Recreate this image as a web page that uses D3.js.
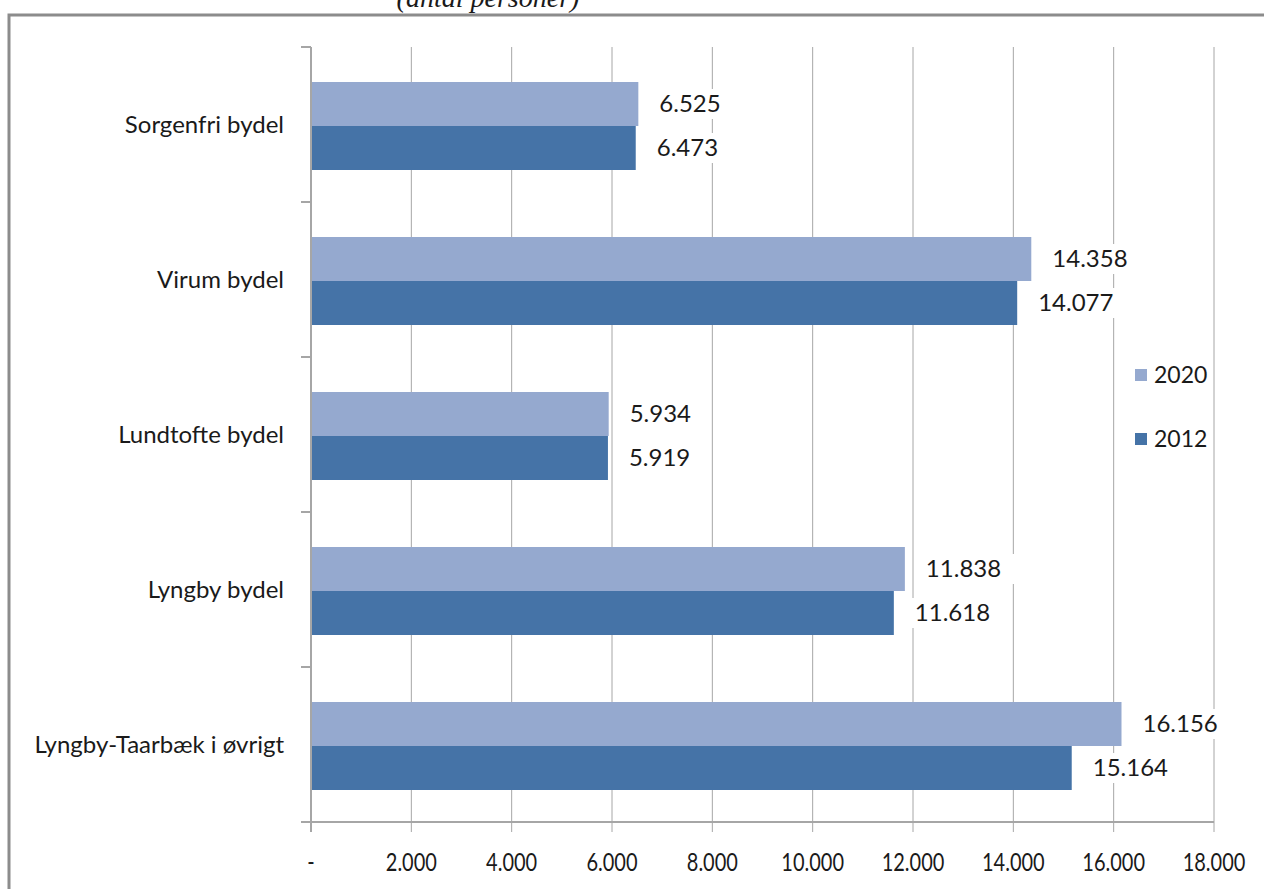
<!DOCTYPE html>
<html>
<head>
<meta charset="utf-8">
<style>
  body { margin: 0; background: #fff; overflow: hidden; }
  text { font-family: Lato, "Open Sans", sans-serif; fill: #1a1a1a; }
</style>
</head>
<body>
<script src="https://cdn.jsdelivr.net/npm/d3@7/dist/d3.min.js"></script>
<script>

// data ////////////////////////////////////////////////////////////////////

var categories = ["Sorgenfri bydel", "Virum bydel", "Lundtofte bydel", "Lyngby bydel", "Lyngby-Taarbæk i øvrigt"];
var values2020 = [6525, 14358, 5934, 11838, 16156];
var values2012 = [6473, 14077, 5919, 11618, 15164];
var series     = ["2020", "2012"];
var xTicks     = [0, 2000, 4000, 6000, 8000, 10000, 12000, 14000, 16000, 18000];

// layout //////////////////////////////////////////////////////////////////

var W = 1264, H = 889;
var colors = {"2020": "#95a9cf", "2012": "#4573a7"};
var fmt = d => d === 0 ? "-" : d3.format(",")(d).replace(/,/g, ".");

var svg = d3.select("body").append("svg")
    .attr("width", W)
    .attr("height", H);

// frame
svg.append("path")
    .attr("d", `M9,${H + 5} V15 H${W + 5}`)
    .attr("fill", "none")
    .attr("stroke", "#8c8c8c")
    .attr("stroke-width", 3);

svg.append("text")
    .attr("x", 488).attr("y", 7)
    .attr("text-anchor", "middle")
    .style("font-family", "'Liberation Serif', serif")
    .style("font-style", "italic")
    .style("font-size", "28px")
    .text("(antal personer)");

var x = d3.scaleLinear().domain([0, 18000]).range([311, 1214]);
var y = d3.scaleBand().domain(categories).range([47, 822]);
var inner = d3.scaleBand().domain(series).range([35, 123]);

// gridlines
svg.append("g")
  .selectAll("line")
  .data(xTicks.slice(1))
  .join("line")
    .attr("x1", d => x(d)).attr("x2", d => x(d))
    .attr("y1", 47).attr("y2", 832)
    .attr("stroke", "#a6a6a6")
    .attr("stroke-width", 1);

// bars
var rows = categories.map((c, i) => ({cat: c, vals: {"2020": values2020[i], "2012": values2012[i]}}));

var groups = svg.append("g")
  .selectAll("g")
  .data(rows)
  .join("g")
    .attr("transform", d => `translate(0,${y(d.cat)})`);

groups.selectAll("rect")
  .data(d => series.map(s => ({s: s, v: d.vals[s]})))
  .join("rect")
    .attr("x", x(0))
    .attr("y", d => inner(d.s))
    .attr("width", d => x(d.v) - x(0))
    .attr("height", inner.bandwidth())
    .attr("fill", d => colors[d.s]);

// value labels with white boxes
var lab = groups.selectAll("g.lab")
  .data(d => series.map(s => ({s: s, v: d.vals[s]})))
  .join("g")
    .attr("class", "lab")
    .attr("transform", d => `translate(${x(d.v) + 21},${inner(d.s) + inner.bandwidth() / 2})`);

lab.append("rect")
    .attr("x", -6).attr("y", -15)
    .attr("width", d => fmt(d.v).length * 14 + 12)
    .attr("height", 30)
    .attr("fill", "#fff");

lab.append("text")
    .attr("dy", "0.35em")
    .style("font-size", "24px")
    .text(d => fmt(d.v));

// y axis
var yAxis = svg.append("g");
yAxis.append("line")
    .attr("x1", 311).attr("x2", 311)
    .attr("y1", 47).attr("y2", 822)
    .attr("stroke", "#a6a6a6").attr("stroke-width", 2);
yAxis.selectAll("line.tick")
  .data(categories.map(c => y(c)).concat([822]))
  .join("line")
    .attr("class", "tick")
    .attr("x1", 301).attr("x2", 311)
    .attr("y1", d => d).attr("y2", d => d)
    .attr("stroke", "#a6a6a6").attr("stroke-width", 2);
yAxis.selectAll("text")
  .data(categories)
  .join("text")
    .attr("x", 284)
    .attr("y", d => y(d) + y.bandwidth() / 2)
    .attr("dy", "0.35em")
    .attr("text-anchor", "end")
    .style("font-size", "24px")
    .text(d => d);

// x axis
var xAxis = svg.append("g");
xAxis.append("line")
    .attr("x1", 301).attr("x2", 1214)
    .attr("y1", 822).attr("y2", 822)
    .attr("stroke", "#a6a6a6").attr("stroke-width", 2);
xAxis.selectAll("line.tick")
  .data([0])
  .join("line")
    .attr("class", "tick")
    .attr("x1", x(0)).attr("x2", x(0))
    .attr("y1", 822).attr("y2", 832)
    .attr("stroke", "#a6a6a6").attr("stroke-width", 2);
xAxis.selectAll("text")
  .data(xTicks)
  .join("text")
    .attr("transform", d => `translate(${x(d)},862) scale(0.8,1)`)
    .attr("dy", "0.35em")
    .attr("text-anchor", "middle")
    .style("font-size", "25px")
    .text(fmt);

// legend
var leg = svg.append("g")
  .selectAll("g")
  .data(series)
  .join("g")
    .attr("transform", (d, i) => `translate(1135,${375 + i * 64})`);
leg.append("rect")
    .attr("x", 0).attr("y", -6)
    .attr("width", 12).attr("height", 12)
    .attr("fill", d => colors[d]);
leg.append("text")
    .attr("x", 19)
    .attr("dy", "0.35em")
    .style("font-size", "23px")
    .text(d => d);

</script>
</body>
</html>
